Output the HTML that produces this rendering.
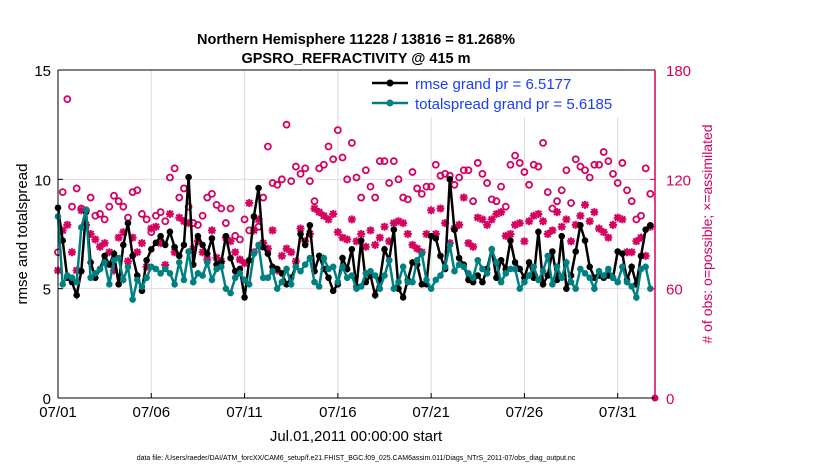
<!DOCTYPE html>
<html><head><meta charset="utf-8"><style>
body{margin:0;background:#fff;width:830px;height:470px;overflow:hidden;font-family:"Liberation Sans",sans-serif}
</style></head><body>
<svg id="chart" width="830" height="470" xmlns="http://www.w3.org/2000/svg" font-family="Liberation Sans, sans-serif">
<text x="356" y="44" text-anchor="middle" font-size="14.5" font-weight="bold">Northern Hemisphere 11228 / 13816 = 81.268%</text>
<text x="356" y="63" text-anchor="middle" font-size="14.5" font-weight="bold">GPSRO_REFRACTIVITY @ 415 m</text>
<g id="grid"></g>
<g id="marks"></g>
<g id="axes"></g>
<text transform="translate(27,234) rotate(-90)" text-anchor="middle" font-size="15">rmse and totalspread</text>
<text transform="translate(712,234) rotate(-90)" text-anchor="middle" font-size="14" fill="#d6005f"># of obs: o=possible; ×=assimilated</text>
<text x="356" y="441" text-anchor="middle" font-size="15">Jul.01,2011 00:00:00 start</text>
<text x="356" y="460" text-anchor="middle" font-size="7">data file: /Users/raeder/DAI/ATM_forcXX/CAM6_setup/f.e21.FHIST_BGC.f09_025.CAM6assim.011/Diags_NTrS_2011-07/obs_diag_output.nc</text>
<g>
<rect x="368" y="71" width="286" height="46" fill="#fff"/>
<line x1="372" y1="83" x2="408" y2="83" stroke="#000" stroke-width="2.5"/><circle cx="390" cy="83" r="3.5" fill="#000"/>
<text x="415" y="89" font-size="15" fill="#1a3cff">rmse grand pr = 6.5177</text>
<line x1="372" y1="103" x2="408" y2="103" stroke="#008080" stroke-width="2.5"/><circle cx="390" cy="103" r="3.5" fill="#008080"/>
<text x="415" y="109" font-size="15" fill="#1a3cff">totalspread grand pr = 5.6185</text>
</g>
</svg>
<script>
const rmse=[8.7,7.2,5.5,5.3,4.7,5.8,8.5,6.2,5.5,5.9,6.5,6.1,6.6,5.2,7.0,8.0,6.5,5.6,4.9,6.3,6.8,7.1,7.4,7.0,7.6,6.9,6.5,7.0,10.1,6.1,7.4,7.0,6.6,7.3,6.1,6.2,7.4,6.4,5.8,5.9,4.6,6.3,8.3,9.6,6.9,6.6,6.0,5.9,5.7,5.2,5.5,6.0,7.5,7.0,7.9,5.8,6.5,5.9,5.5,4.9,5.2,6.4,5.9,6.8,5.1,7.2,5.3,5.6,4.7,5.4,6.8,6.3,7.7,5.0,4.6,5.4,6.2,6.1,5.2,5.2,7.4,7.3,6.5,5.9,10.0,7.7,6.4,6.1,5.4,5.3,5.6,5.3,5.9,6.8,5.5,6.3,5.9,7.2,6.2,5.9,5.5,6.2,5.5,7.6,5.2,5.6,6.7,5.4,7.4,5.0,5.6,6.7,7.9,7.2,6.0,5.5,5.6,5.5,5.6,5.5,6.7,6.6,5.4,6.0,5.2,6.5,7.7,7.9];
const spread=[8.3,5.2,5.6,5.5,5.3,7.8,8.6,5.5,5.7,5.9,6.2,5.2,6.3,6.4,5.4,6.0,4.5,5.4,5.1,5.5,6.0,5.9,5.7,5.9,5.7,5.2,6.2,5.4,6.7,5.3,5.7,5.6,6.2,5.4,5.9,6.0,5.0,4.8,5.5,5.7,5.4,5.2,6.6,7.0,5.5,5.5,5.8,5.0,5.3,5.9,5.2,6.0,5.8,6.1,6.4,5.3,5.1,6.4,5.9,6.0,5.3,6.0,5.5,5.6,5.0,5.1,5.7,5.8,5.6,5.0,5.6,6.3,5.0,5.3,6.0,5.3,5.3,6.3,6.6,5.4,5.0,5.4,5.6,6.0,7.0,5.8,6.1,6.0,5.7,5.5,6.3,5.9,5.7,6.8,6.2,5.3,5.7,5.9,5.9,5.0,5.3,5.6,6.0,5.4,5.8,6.5,5.2,6.0,5.5,6.2,5.3,5.0,5.9,5.7,5.5,5.0,5.8,5.6,5.9,5.5,5.3,6.0,5.3,5.1,4.6,5.9,6.0,5.0];
const possible=[80,113,164,105,115,104,103,110,100,101,98,105,111,108,105,99,113,114,101,98,91,100,102,97,121,126,110,115,105,96,95,100,110,112,106,104,96,104,89,87,98,92,80,94,110,138,118,117,120,150,119,127,123,126,119,108,126,128,138,131,147,132,120,140,121,110,125,116,110,130,130,118,130,120,110,109,124,115,112,116,116,128,122,123,122,117,121,125,125,108,129,123,118,109,108,116,105,128,133,129,124,117,128,127,140,113,104,108,114,125,107,131,127,125,121,128,128,135,130,123,118,129,114,108,98,100,126,112];
const assimilated=[70,92,95,80,70,103,95,90,87,83,85,80,70,88,91,75,88,80,85,72,93,94,85,73,101,80,99,97,96,82,86,80,76,92,77,75,88,86,80,76,74,107,92,98,85,82,92,70,78,82,80,75,93,86,90,104,102,100,98,101,91,88,87,98,86,90,83,92,84,88,94,86,96,97,96,90,84,82,80,90,103,90,104,96,85,93,95,110,85,83,99,98,95,98,101,102,89,90,95,96,86,97,100,101,97,90,92,102,94,98,86,95,100,106,97,102,93,91,88,95,99,98,80,80,86,88,78,94];
const xTickLabels=["07/01","07/06","07/11","07/16","07/21","07/26","07/31"];
const xTickDays=[0,5,10,15,20,25,30];
const yLeftTicks=[0,5,10,15];
const yRightTicks=[0,60,120,180];

const L=58,R=655,T=70,B=398,XMAX=32;
const xs=d=>L+(d/XMAX)*(R-L);
const yl=v=>B-(v/15)*(B-T);
const yr=v=>B-(v/180)*(B-T);
const NS="http://www.w3.org/2000/svg";
function mk(tag,parent,attrs){const e=document.createElementNS(NS,tag);for(const k in attrs)e.setAttribute(k,attrs[k]);parent.appendChild(e);return e;}
const grid=document.getElementById('grid'),marks=document.getElementById('marks'),axes=document.getElementById('axes');
mk('rect',grid,{x:L,y:T,width:R-L,height:B-T,fill:'#fff'});
xTickDays.forEach((d,i)=>{
  const g=mk('line',grid,{x1:xs(d),x2:xs(d),y1:T,y2:B,stroke:'#dcdcdc','stroke-width':1});
  
  
  const t=mk('text',axes,{x:xs(d),y:417,'text-anchor':'middle','font-size':15});
  t.textContent=xTickLabels[i];
  
  
  mk('line',axes,{x1:xs(d),x2:xs(d),y1:B,y2:B-5,stroke:'#000'});
});
yRightTicks.forEach(v=>{
  if(v>0&&v<180){const g=mk('line',grid,{x1:L,x2:R,y1:yr(v),y2:yr(v),stroke:'#f0d4de','stroke-width':1});
  
  }
  const t=mk('text',axes,{x:666,y:yr(v)+6,'font-size':15,fill:'#d6005f'});
  t.textContent=v;
  
  
  mk('line',axes,{x1:R,x2:R-5,y1:yr(v),y2:yr(v),stroke:'#d6005f'});
});
yLeftTicks.forEach(v=>{
  const t=mk('text',axes,{x:51,y:yl(v)+6,'text-anchor':'end','font-size':15});
  t.textContent=v;
  
  
  mk('line',axes,{x1:L,x2:L+5,y1:yl(v),y2:yl(v),stroke:'#000'});
});
mk('line',axes,{x1:L,x2:L,y1:T,y2:B,stroke:'#000','stroke-width':1});
mk('line',axes,{x1:L,x2:R,y1:B,y2:B,stroke:'#000','stroke-width':1});
mk('line',axes,{x1:L,x2:R,y1:T,y2:T,stroke:'#000','stroke-width':1});
mk('line',axes,{x1:R,x2:R,y1:T,y2:B,stroke:'#d6005f','stroke-width':1.5});

const day=i=>i*0.25;
possible.forEach((v,i)=>{
  const c=mk('circle',marks,{cx:xs(day(i)),cy:yr(v),r:3,fill:'none',stroke:'#d6005f','stroke-width':1.8});
  
  
});
assimilated.forEach((v,i)=>{
  const x=xs(day(i)),y=yr(v),s=4;
  const p=mk('path',marks,{d:`M${x-s} ${y}H${x+s}M${x} ${y-s}V${y+s}M${x-3} ${y-3}L${x+3} ${y+3}M${x-3} ${y+3}L${x+3} ${y-3}`,stroke:'#d6005f','stroke-width':2});
  
  
});
function series(vals,color,name){
  const l=mk('polyline',marks,{points:vals.map((v,i)=>xs(day(i))+','+yl(v)).join(' '),fill:'none',stroke:color,'stroke-width':2.5});
  
  
  vals.forEach((v,i)=>{
    const c=mk('circle',marks,{cx:xs(day(i)),cy:yl(v),r:3.3,fill:color});
    
    
  });
}
series(rmse,'#000','rmse');
series(spread,'#008080','totalspread');
const z=mk('circle',marks,{cx:R,cy:B,r:3.5,fill:'#d6005f'});


</script>
</body></html>
